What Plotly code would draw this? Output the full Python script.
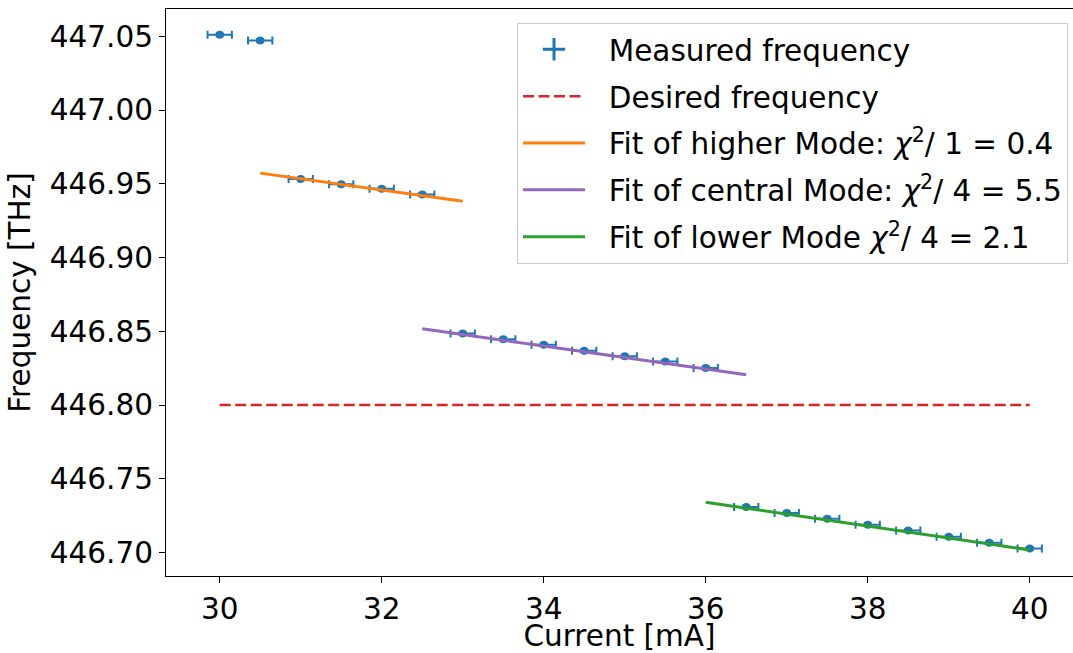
import plotly.graph_objects as go

# Measured laser frequency vs. diode current
current = [30.0, 30.5, 31.0, 31.5, 32.0, 32.5, 33.0, 33.5, 34.0, 34.5, 35.0, 35.5, 36.0,
           36.5, 37.0, 37.5, 38.0, 38.5, 39.0, 39.5, 40.0]
frequency = [447.0512, 447.0473, 446.9533, 446.9497, 446.9467, 446.9428,
             446.8485, 446.8446, 446.8410, 446.8369, 446.8331, 446.8295, 446.8252,
             446.7309, 446.7269, 446.7230, 446.7189, 446.7149, 446.7108, 446.7067, 446.7027]
current_err = [0.15] * len(current)
frequency_err = [0.001] * len(current)

# Target frequency
desired_x = [30.0, 40.0]
desired_y = [446.80, 446.80]

# Linear fits of the three modes (end points of each fitted line)
fit_high_x = [30.5, 33.0]
fit_high_y = [446.9573, 446.9383]
fit_central_x = [32.5, 36.5]
fit_central_y = [446.8517, 446.8205]
fit_low_x = [36.0, 40.0]
fit_low_y = [446.7341, 446.7018]

FONT = "DejaVu Sans"
FS = 29.5
PAD = "\u00a0\u00a0"  # gap between legend symbol and label

BLUE = "#1f77b4"

fig = go.Figure()

# measurements with error bars (legend entry drawn as an errorbar-like cross below)
fig.add_trace(go.Scatter(
    x=current, y=frequency, mode="markers", name="Measured frequency",
    marker=dict(color=BLUE, size=8),
    error_x=dict(type="data", array=current_err, color=BLUE, thickness=2, width=4),
    error_y=dict(type="data", array=frequency_err, color=BLUE, thickness=2, width=4),
    showlegend=False, legendgroup="a",
))
fig.add_trace(go.Scatter(
    x=[None], y=[None], mode="markers", name=PAD + "Measured frequency",
    marker=dict(color=BLUE, size=16, symbol="cross-thin", line=dict(color=BLUE, width=3)),
    legendgroup="a",
))
fig.add_trace(go.Scatter(
    x=desired_x, y=desired_y, mode="lines", name=PAD + "Desired frequency",
    line=dict(color="#d62728", width=2.5, dash="11px,4.5px"),
    legendgroup="b",
))
fig.add_trace(go.Scatter(
    x=fit_high_x, y=fit_high_y, mode="lines",
    name=PAD + "Fit of higher Mode: <i>χ</i><sup>2</sup>/ 1 = 0.4",
    line=dict(color="#ff7f0e", width=3),
    legendgroup="c",
))
fig.add_trace(go.Scatter(
    x=fit_central_x, y=fit_central_y, mode="lines",
    name=PAD + "Fit of central Mode: <i>χ</i><sup>2</sup>/ 4 = 5.5",
    line=dict(color="#9467bd", width=3),
    legendgroup="d",
))
fig.add_trace(go.Scatter(
    x=fit_low_x, y=fit_low_y, mode="lines",
    name=PAD + "Fit of lower Mode <i>χ</i><sup>2</sup>/ 4 = 2.1",
    line=dict(color="#2ca02c", width=3),
    legendgroup="e",
))

axis_common = dict(
    showgrid=False, zeroline=False, showline=True, linecolor="black", linewidth=1.2,
    ticks="outside", ticklen=6, tickwidth=1.2, tickcolor="black",
    tickfont=dict(family=FONT, size=FS, color="black"),
)

fig.update_layout(
    width=1073, height=653,
    margin=dict(l=166, r=0, t=9, b=77),
    paper_bgcolor="white", plot_bgcolor="white",
    font=dict(family=FONT, size=FS, color="black"),
    xaxis=dict(
        range=[29.337, 40.534], tickvals=[30, 32, 34, 36, 38, 40],
        title=dict(text="Current [mA]", font=dict(family=FONT, size=FS), standoff=8),
        mirror=True, **axis_common,
    ),
    yaxis=dict(
        range=[446.6841, 447.0686], tickvals=[446.70, 446.75, 446.80, 446.85, 446.90, 446.95, 447.00, 447.05],
        tickformat=".2f",
        title=dict(text="Frequency [THz]", font=dict(family=FONT, size=FS), standoff=10),
        **axis_common,
    ),
    legend=dict(
        x=0.9945, y=0.976, xanchor="right", yanchor="top",
        bgcolor="rgba(255,255,255,0.8)", bordercolor="#cccccc", borderwidth=1,
        font=dict(family=FONT, size=FS, color="black"),
        tracegroupgap=5.5, itemwidth=62, traceorder="grouped",
    ),
    showlegend=True,
)

fig.write_html("out.html")
